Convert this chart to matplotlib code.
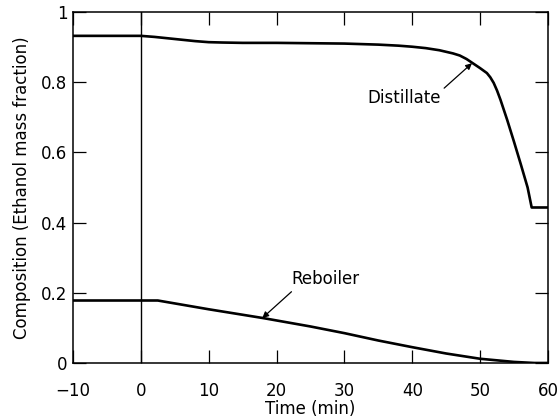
import matplotlib
matplotlib.use("Agg")
import matplotlib.pyplot as plt

# Time axis (min) and ethanol mass fraction for the two streams
dist_time = [-10, 0, 2, 4, 6, 8, 10, 12, 15, 20, 25, 30, 35, 38, 40, 42, 44, 46,
             47, 48, 49, 50, 51, 51.5, 52, 52.5, 53, 54, 55, 56, 57, 57.6, 60]
dist_comp = [0.932, 0.932, 0.929, 0.925, 0.921, 0.917, 0.914, 0.913, 0.912, 0.912,
             0.911, 0.910, 0.907, 0.904, 0.901, 0.897, 0.891, 0.882, 0.876, 0.866,
             0.853, 0.840, 0.826, 0.814, 0.798, 0.776, 0.750, 0.692, 0.630, 0.566,
             0.500, 0.443, 0.443]

reb_time = [-10, 2.5, 10, 18, 25, 30, 35, 40, 45, 50, 55, 58, 60]
reb_comp = [0.178, 0.178, 0.153, 0.128, 0.104, 0.085, 0.064, 0.045, 0.027, 0.012,
            0.003, 0.0, 0.0]

x_ticks = [-10, 0, 10, 20, 30, 40, 50, 60]
x_labels = ["\u221210", "0", "10", "20", "30", "40", "50", "60"]
y_ticks = [0, 0.2, 0.4, 0.6, 0.8, 1]
y_labels = ["0", "0.2", "0.4", "0.6", "0.8", "1"]

plt.rcParams["font.family"] = ["DejaVu Sans"]
fig = plt.figure(figsize=(5.58, 4.19), dpi=100)
ax = fig.add_axes([0.1308, 0.1337, 0.8512, 0.8377])

ax.plot(dist_time, dist_comp, color="black", lw=1.9, solid_joinstyle="round")
ax.plot(reb_time, reb_comp, color="black", lw=1.9, solid_joinstyle="round")
ax.axvline(0, color="black", lw=1.0)

ax.set_xlim(-10, 60)
ax.set_ylim(0, 1)
ax.set_xticks(x_ticks)
ax.set_xticklabels(x_labels)
ax.set_yticks(y_ticks)
ax.set_yticklabels(y_labels)
ax.tick_params(direction="in", length=9.5, width=0.9, top=True, right=True,
               labelsize=12, colors="black")
ax.tick_params(axis="x", pad=14)
ax.tick_params(axis="y", pad=4)
for s in ax.spines.values():
    s.set_linewidth(1.1)

ax.set_xlabel("Time (min)", fontsize=12, labelpad=0)
ax.set_ylabel("Composition (Ethanol mass fraction)", fontsize=12, labelpad=7)

arrow = dict(arrowstyle="-|>", color="black", lw=0.9, mutation_scale=9,
             shrinkA=0, shrinkB=0)
ax.annotate("", xy=(48.8, 0.854), xytext=(44.7, 0.783), arrowprops=arrow)
ax.text(38.8, 0.754, "Distillate", fontsize=12, ha="center", va="center")
ax.annotate("", xy=(17.9, 0.128), xytext=(22.2, 0.203), arrowprops=arrow)
ax.text(27.2, 0.24, "Reboiler", fontsize=12, ha="center", va="center")

fig.savefig("out.png", dpi=100)
